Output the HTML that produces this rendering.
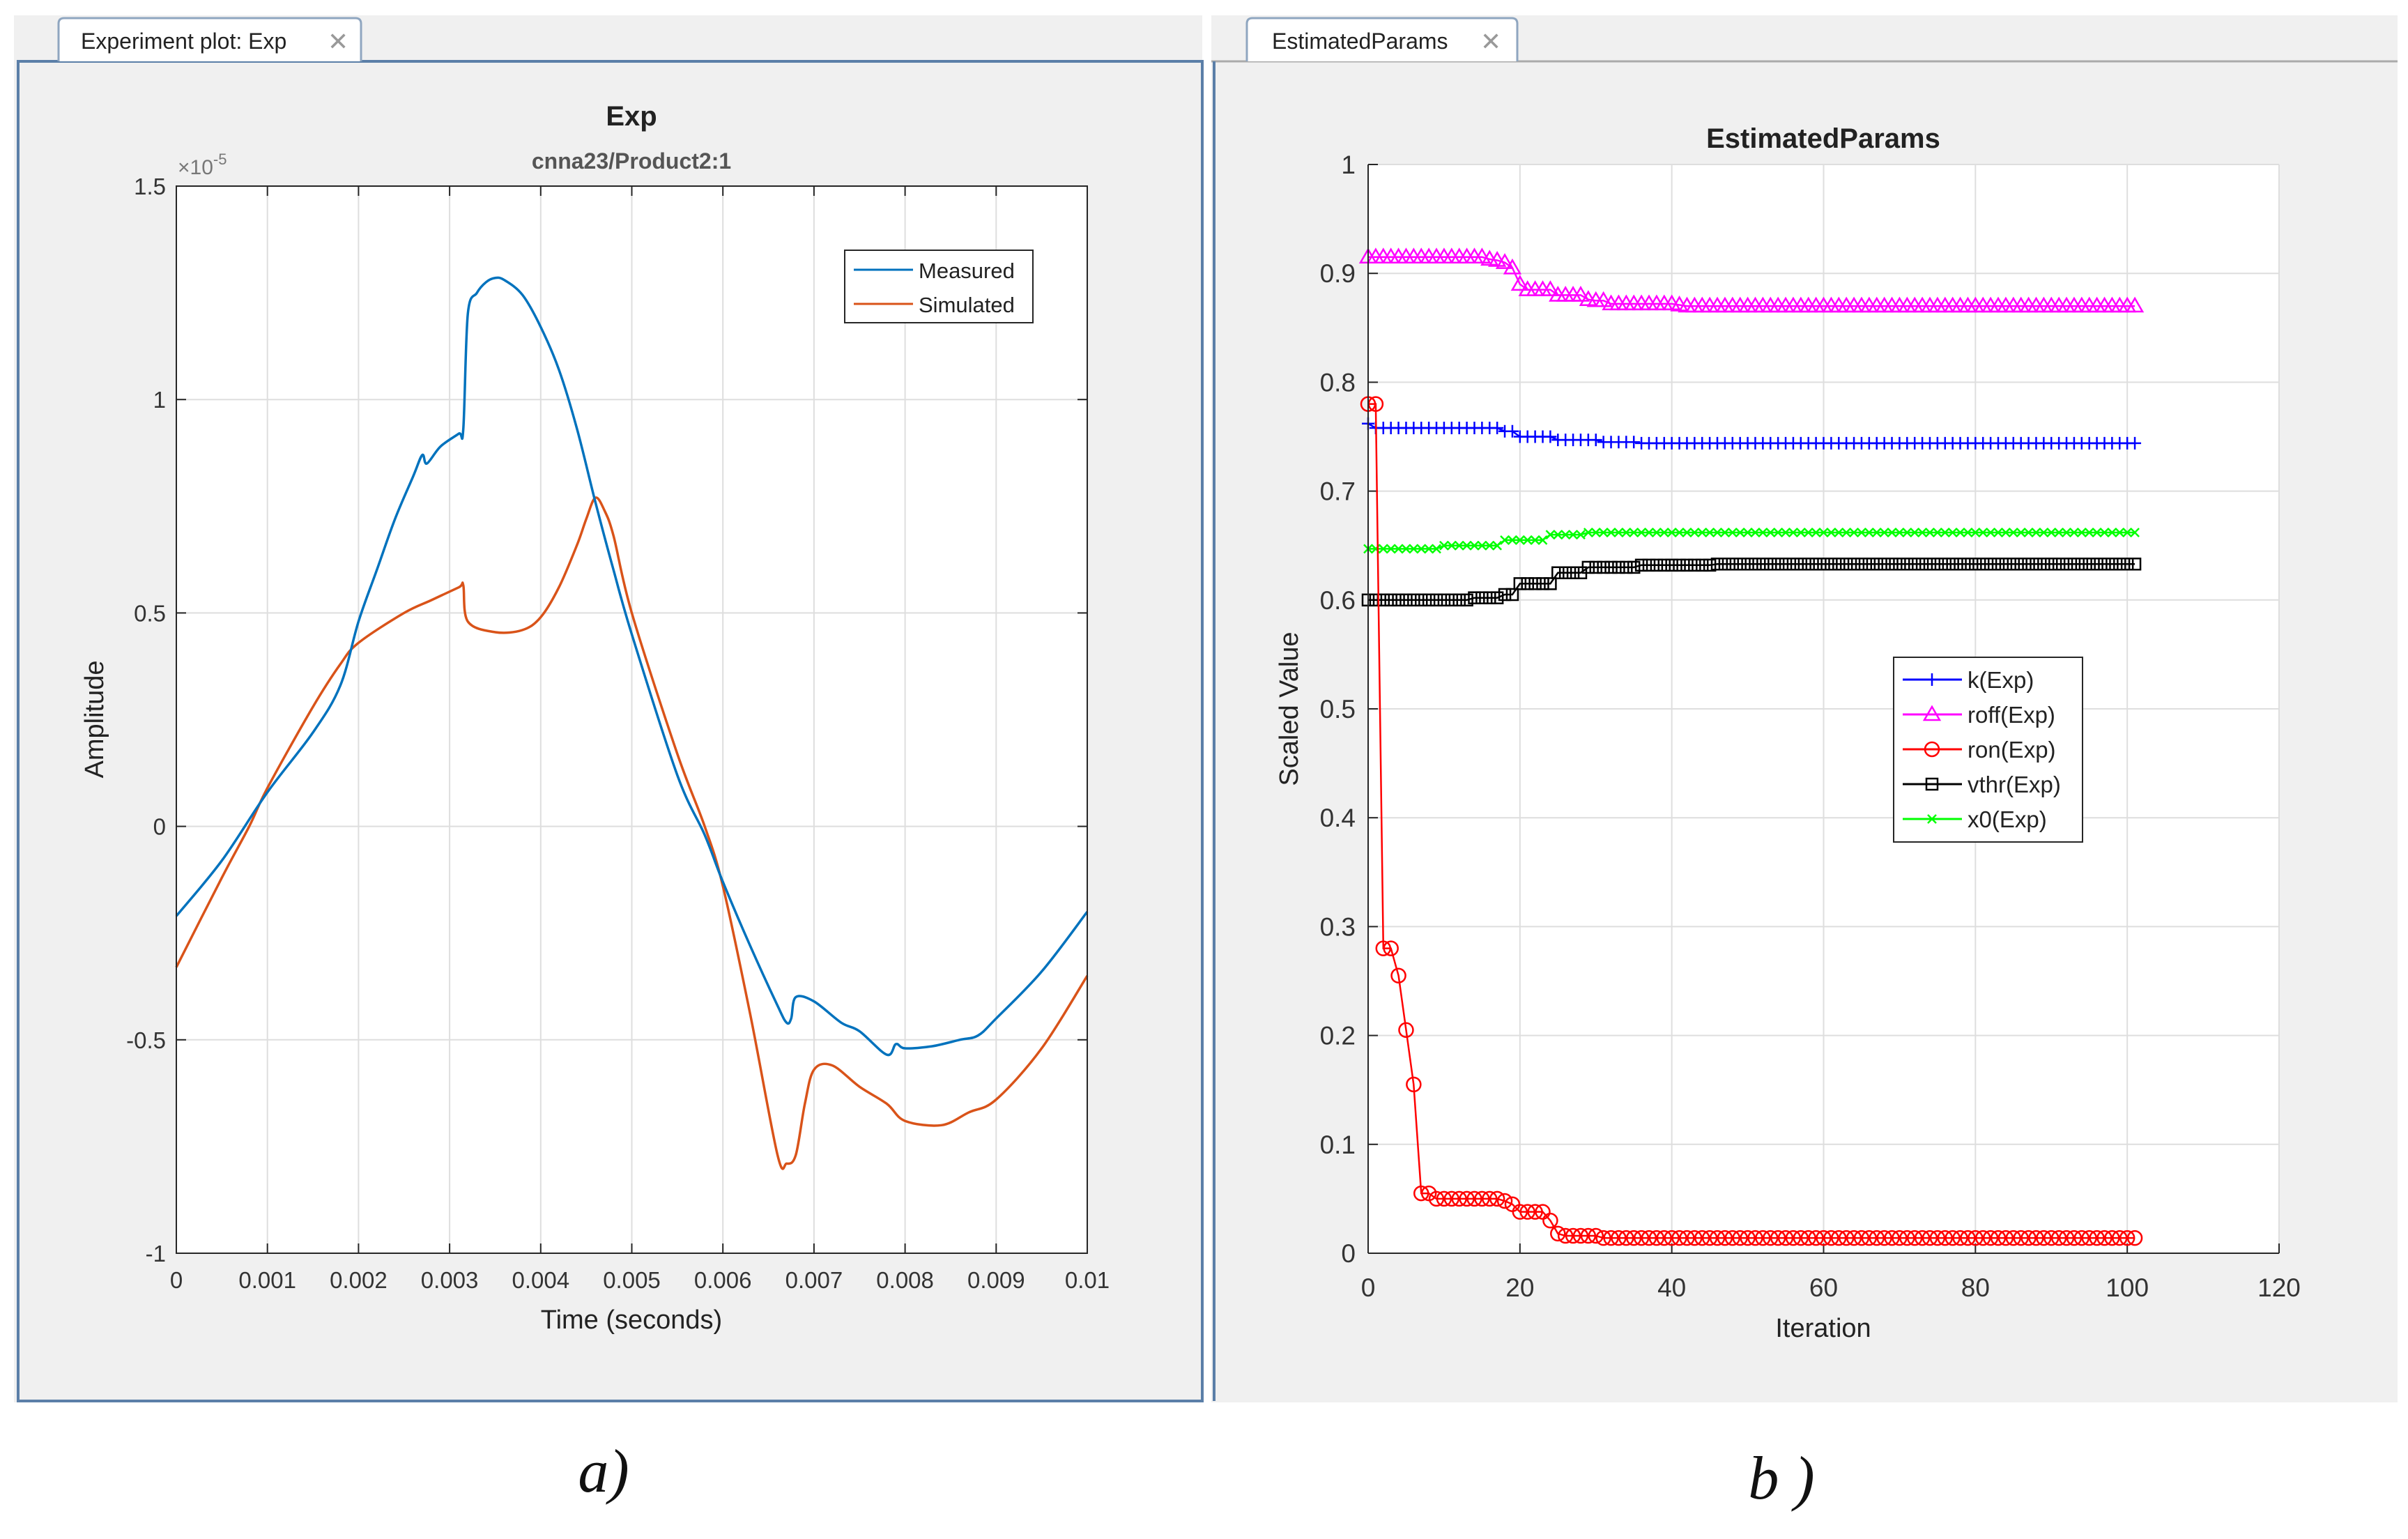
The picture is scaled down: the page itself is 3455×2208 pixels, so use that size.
<!DOCTYPE html>
<html><head><meta charset="utf-8"><style>
html,body{margin:0;padding:0;background:#fff}
svg{display:block;font-family:"Liberation Sans",sans-serif}
</style></head><body>
<svg id="root" width="3455" height="2208" viewBox="0 0 3455 2208" xmlns="http://www.w3.org/2000/svg">
<rect x="0" y="0" width="3455" height="2208" fill="#fff"/>
<g>
<rect x="20" y="22" width="1705" height="1990" fill="#f0f0f0"/>
<rect x="26" y="88" width="1699" height="1922" fill="#f0f0f0" stroke="#5b7fa8" stroke-width="4"/>
<path d="M84 88 L84 34 Q84 26 92 26 L510 26 Q518 26 518 34 L518 88" fill="#fff" stroke="#8fa6c0" stroke-width="3"/>
<text x="116" y="70" font-size="32" fill="#222">Experiment plot: Exp</text>
<text x="470" y="72" font-size="36" fill="#999">✕</text>
<rect x="253" y="267" width="1307" height="1531" fill="#fff"/>
<g id="lgrid"></g>
<g id="lseries"></g>
<rect x="253" y="267" width="1307" height="1531" fill="none" stroke="#262626" stroke-width="2"/>
<text x="906" y="180" font-size="40" font-weight="bold" text-anchor="middle" fill="#222">Exp</text>
<text x="906" y="242" font-size="32" font-weight="bold" text-anchor="middle" fill="#555">cnna23/Product2:1</text>
<text x="255" y="250" font-size="30" fill="#777">×10<tspan dy="-14" font-size="22">-5</tspan></text>
<text x="906" y="1906" font-size="38" text-anchor="middle" fill="#222">Time (seconds)</text>
<text transform="translate(148,1032) rotate(-90)" font-size="38" text-anchor="middle" fill="#222">Amplitude</text>
<g>
<rect x="1212" y="359" width="270" height="104" fill="#fff" stroke="#262626" stroke-width="2"/>
<line x1="1225" y1="387" x2="1310" y2="387" stroke="#0072bd" stroke-width="3"/>
<text x="1318" y="399" font-size="31" fill="#222">Measured</text>
<line x1="1225" y1="436" x2="1310" y2="436" stroke="#d95319" stroke-width="3"/>
<text x="1318" y="448" font-size="31" fill="#222">Simulated</text>
</g>
</g>
<g>
<rect x="1738" y="22" width="1702" height="1990" fill="#f0f0f0"/>
<line x1="1738" y1="88" x2="3440" y2="88" stroke="#aaa" stroke-width="3"/>
<line x1="1742" y1="88" x2="1742" y2="2010" stroke="#5b7fa8" stroke-width="4"/>
<path d="M1789 88 L1789 34 Q1789 26 1797 26 L2169 26 Q2177 26 2177 34 L2177 88" fill="#fff" stroke="#8fa6c0" stroke-width="3"/>
<text x="1825" y="70" font-size="32" fill="#222">EstimatedParams</text>
<text x="2124" y="72" font-size="36" fill="#999">✕</text>
<rect x="1963" y="236" width="1307" height="1562" fill="#fff"/>
<g id="rgrid"></g>
<g id="rseries"></g>
<line x1="1963" y1="236" x2="1963" y2="1798" stroke="#262626" stroke-width="2"/>
<line x1="1963" y1="1798" x2="3270" y2="1798" stroke="#262626" stroke-width="2"/>
<text x="2616" y="212" font-size="40" font-weight="bold" text-anchor="middle" fill="#222">EstimatedParams</text>
<text x="2616" y="1918" font-size="38" text-anchor="middle" fill="#222">Iteration</text>
<text transform="translate(1862,1017) rotate(-90)" font-size="38" text-anchor="middle" fill="#222">Scaled Value</text>
<g id="rlegend">
<rect x="2717" y="943" width="271" height="265" fill="#fff" stroke="#262626" stroke-width="2"/>
</g>
</g>
<text x="866" y="2140" font-size="88" font-style="italic" font-family="Liberation Serif, serif" text-anchor="middle" fill="#111">a)</text>
<text x="2556" y="2150" font-size="88" font-style="italic" font-family="Liberation Serif, serif" text-anchor="middle" fill="#111">b )</text>
</svg>
<script>
const measT=[0,0.0005,0.001,0.0015,0.0018,0.002,0.0022,0.0024,0.0026,0.0027,0.00275,0.0029,0.0031,0.00315,0.0032,0.0033,0.0034,0.0035,0.0036,0.0038,0.004,0.0042,0.0044,0.0046,0.0048,0.005,0.0055,0.0058,0.006,0.0063,0.0066,0.0067,0.00675,0.0068,0.007,0.0073,0.0075,0.0078,0.0079,0.008,0.0083,0.0086,0.0088,0.009,0.0095,0.01];
const measV=[-0.21,-0.08,0.08,0.22,0.33,0.48,0.6,0.72,0.82,0.87,0.85,0.89,0.92,0.93,1.2,1.25,1.275,1.285,1.28,1.245,1.17,1.07,0.93,0.76,0.6,0.45,0.12,-0.02,-0.13,-0.28,-0.42,-0.46,-0.45,-0.40,-0.41,-0.46,-0.48,-0.535,-0.51,-0.52,-0.515,-0.5,-0.49,-0.45,-0.34,-0.2];
const simT=[0,0.0005,0.0008,0.001,0.0015,0.0018,0.002,0.0025,0.0028,0.0031,0.00315,0.0032,0.0035,0.0038,0.004,0.0042,0.0044,0.0045,0.0046,0.0047,0.0048,0.005,0.0055,0.0058,0.006,0.0063,0.0066,0.0067,0.0068,0.0069,0.007,0.0072,0.0075,0.0078,0.008,0.0084,0.0087,0.009,0.0095,0.01];
const simV=[-0.33,-0.12,0.0,0.09,0.28,0.38,0.43,0.5,0.53,0.56,0.565,0.48,0.455,0.46,0.49,0.56,0.66,0.72,0.77,0.74,0.68,0.50,0.17,0.0,-0.14,-0.44,-0.77,-0.79,-0.77,-0.65,-0.57,-0.56,-0.61,-0.65,-0.69,-0.70,-0.67,-0.64,-0.52,-0.35];
const lxTicks=[0,0.001,0.002,0.003,0.004,0.005,0.006,0.007,0.008,0.009,0.01];
const lxLabels=["0","0.001","0.002","0.003","0.004","0.005","0.006","0.007","0.008","0.009","0.01"];
const lyTicks=[-1,-0.5,0,0.5,1,1.5];
const lyLabels=["-1","-0.5","0","0.5","1","1.5"];
const rxTicks=[0,20,40,60,80,100,120];
const ryTicks=[0,0.1,0.2,0.3,0.4,0.5,0.6,0.7,0.8,0.9,1];
const ryLabels=["0","0.1","0.2","0.3","0.4","0.5","0.6","0.7","0.8","0.9","1"];
const kVals=[0.762,0.758,0.758,0.758,0.758,0.758,0.758,0.758,0.758,0.758,
0.758,0.758,0.758,0.758,0.758,0.758,0.758,0.758,0.755,0.755,
0.75,0.75,0.75,0.75,0.75,0.747,0.747,0.747,0.747,0.747,
0.747,0.745,0.745,0.745,0.745,0.745,0.744,0.744,0.744,0.744,
0.744,0.744,0.744,0.744,0.744,0.744,0.744,0.744,0.744,0.744,
0.744,0.744,0.744,0.744,0.744,0.744,0.744,0.744,0.744,0.744,
0.744,0.744,0.744,0.744,0.744,0.744,0.744,0.744,0.744,0.744,
0.744,0.744,0.744,0.744,0.744,0.744,0.744,0.744,0.744,0.744,
0.744,0.744,0.744,0.744,0.744,0.744,0.744,0.744,0.744,0.744,
0.744,0.744,0.744,0.744,0.744,0.744,0.744,0.744,0.744,0.744,
0.744,0.744];
const roffVals=[0.915,0.915,0.915,0.915,0.915,0.915,0.915,0.915,0.915,0.915,
0.915,0.915,0.915,0.915,0.915,0.915,0.913,0.912,0.91,0.905,
0.89,0.885,0.885,0.885,0.885,0.88,0.88,0.88,0.88,0.876,
0.875,0.875,0.872,0.872,0.872,0.872,0.872,0.872,0.872,0.872,
0.872,0.871,0.87,0.87,0.87,0.87,0.87,0.87,0.87,0.87,
0.87,0.87,0.87,0.87,0.87,0.87,0.87,0.87,0.87,0.87,
0.87,0.87,0.87,0.87,0.87,0.87,0.87,0.87,0.87,0.87,
0.87,0.87,0.87,0.87,0.87,0.87,0.87,0.87,0.87,0.87,
0.87,0.87,0.87,0.87,0.87,0.87,0.87,0.87,0.87,0.87,
0.87,0.87,0.87,0.87,0.87,0.87,0.87,0.87,0.87,0.87,
0.87,0.87];
const ronVals=[0.78,0.78,0.28,0.28,0.255,0.205,0.155,0.055,0.055,0.05,
0.05,0.05,0.05,0.05,0.05,0.05,0.05,0.05,0.048,0.045,
0.038,0.038,0.038,0.038,0.03,0.018,0.016,0.016,0.016,0.016,
0.016,0.014,0.014,0.014,0.014,0.014,0.014,0.014,0.014,0.014,
0.014,0.014,0.014,0.014,0.014,0.014,0.014,0.014,0.014,0.014,
0.014,0.014,0.014,0.014,0.014,0.014,0.014,0.014,0.014,0.014,
0.014,0.014,0.014,0.014,0.014,0.014,0.014,0.014,0.014,0.014,
0.014,0.014,0.014,0.014,0.014,0.014,0.014,0.014,0.014,0.014,
0.014,0.014,0.014,0.014,0.014,0.014,0.014,0.014,0.014,0.014,
0.014,0.014,0.014,0.014,0.014,0.014,0.014,0.014,0.014,0.014,
0.014,0.014];
const vthrVals=[0.6,0.6,0.6,0.6,0.6,0.6,0.6,0.6,0.6,0.6,
0.6,0.6,0.6,0.6,0.602,0.602,0.602,0.602,0.605,0.605,
0.615,0.615,0.615,0.615,0.615,0.625,0.625,0.625,0.625,0.63,
0.63,0.63,0.63,0.63,0.63,0.63,0.632,0.632,0.632,0.632,
0.632,0.632,0.632,0.632,0.632,0.632,0.633,0.633,0.633,0.633,
0.633,0.633,0.633,0.633,0.633,0.633,0.633,0.633,0.633,0.633,
0.633,0.633,0.633,0.633,0.633,0.633,0.633,0.633,0.633,0.633,
0.633,0.633,0.633,0.633,0.633,0.633,0.633,0.633,0.633,0.633,
0.633,0.633,0.633,0.633,0.633,0.633,0.633,0.633,0.633,0.633,
0.633,0.633,0.633,0.633,0.633,0.633,0.633,0.633,0.633,0.633,
0.633,0.633];
const x0Vals=[0.647,0.647,0.647,0.647,0.647,0.647,0.647,0.647,0.647,0.647,
0.65,0.65,0.65,0.65,0.65,0.65,0.65,0.65,0.655,0.655,
0.655,0.655,0.655,0.655,0.66,0.66,0.66,0.66,0.66,0.662,
0.662,0.662,0.662,0.662,0.662,0.662,0.662,0.662,0.662,0.662,
0.662,0.662,0.662,0.662,0.662,0.662,0.662,0.662,0.662,0.662,
0.662,0.662,0.662,0.662,0.662,0.662,0.662,0.662,0.662,0.662,
0.662,0.662,0.662,0.662,0.662,0.662,0.662,0.662,0.662,0.662,
0.662,0.662,0.662,0.662,0.662,0.662,0.662,0.662,0.662,0.662,
0.662,0.662,0.662,0.662,0.662,0.662,0.662,0.662,0.662,0.662,
0.662,0.662,0.662,0.662,0.662,0.662,0.662,0.662,0.662,0.662,
0.662,0.662];
const seriesNames=["k(Exp)","roff(Exp)","ron(Exp)","vthr(Exp)","x0(Exp)"];

const NS="http://www.w3.org/2000/svg";
function mk(tag,attrs,parent){const e=document.createElementNS(NS,tag);for(const k in attrs)e.setAttribute(k,attrs[k]);parent.appendChild(e);return e;}

const lx=v=>253+(v-0)/(0.01)*1307;
const ly=v=>1798-(v+1)/2.5*1531;
const lg=document.getElementById('lgrid');
lxTicks.forEach((t,i)=>{
  const g=mk('line',{x1:lx(t),y1:267,x2:lx(t),y2:1798,stroke:'#dedede','stroke-width':2},lg);
  
  
  mk('line',{x1:lx(t),y1:1798,x2:lx(t),y2:1784,stroke:'#262626','stroke-width':2},lg);
  mk('line',{x1:lx(t),y1:267,x2:lx(t),y2:281,stroke:'#262626','stroke-width':2},lg);
  const tx=mk('text',{x:lx(t),y:1848,'font-size':33,'text-anchor':'middle',fill:'#333'},lg);
  tx.textContent=lxLabels[i];
  
  
});
lyTicks.forEach((t,i)=>{
  const g=mk('line',{x1:253,y1:ly(t),x2:1560,y2:ly(t),stroke:'#dedede','stroke-width':2},lg);
  
  
  mk('line',{x1:253,y1:ly(t),x2:267,y2:ly(t),stroke:'#262626','stroke-width':2},lg);
  mk('line',{x1:1546,y1:ly(t),x2:1560,y2:ly(t),stroke:'#262626','stroke-width':2},lg);
  const tx=mk('text',{x:238,y:ly(t)+12,'font-size':33,'text-anchor':'end',fill:'#333'},lg);
  tx.textContent=lyLabels[i];
  
  
});
const ls=document.getElementById('lseries');
function smoothPath(P){
  let d='M'+P[0][0].toFixed(1)+' '+P[0][1].toFixed(1);
  for(let i=0;i<P.length-1;i++){
    const p0=P[Math.max(0,i-1)],p1=P[i],p2=P[i+1],p3=P[Math.min(P.length-1,i+2)];
    const c1x=p1[0]+(p2[0]-p0[0])/6,c1y=p1[1]+(p2[1]-p0[1])/6;
    const c2x=p2[0]-(p3[0]-p1[0])/6,c2y=p2[1]-(p3[1]-p1[1])/6;
    d+=` C${c1x.toFixed(1)} ${c1y.toFixed(1)} ${c2x.toFixed(1)} ${c2y.toFixed(1)} ${p2[0].toFixed(1)} ${p2[1].toFixed(1)}`;
  }
  return d;
}
function lline(T,V,color,name){
  const P=T.map((t,i)=>[lx(t),ly(V[i])]);
  const p=mk('path',{d:smoothPath(P),fill:'none',stroke:color,'stroke-width':3.5,'stroke-linejoin':'round'},ls);
  
  
}
lline(simT,simV,'#d95319','simulated-line');
lline(measT,measV,'#0072bd','measured-line');

const rx=v=>1963+v/120*1307;
const ry=v=>1798-v*1562;
const rg=document.getElementById('rgrid');
rxTicks.forEach(t=>{
  const g=mk('line',{x1:rx(t),y1:236,x2:rx(t),y2:1798,stroke:'#dedede','stroke-width':2},rg);
  
  
  mk('line',{x1:rx(t),y1:1798,x2:rx(t),y2:1784,stroke:'#262626','stroke-width':2},rg);
  const tx=mk('text',{x:rx(t),y:1860,'font-size':37,'text-anchor':'middle',fill:'#333'},rg);
  tx.textContent=String(t);
  
  
});
ryTicks.forEach((t,i)=>{
  const g=mk('line',{x1:1963,y1:ry(t),x2:3270,y2:ry(t),stroke:'#dedede','stroke-width':2},rg);
  
  
  mk('line',{x1:1963,y1:ry(t),x2:1977,y2:ry(t),stroke:'#262626','stroke-width':2},rg);
  const tx=mk('text',{x:1945,y:ry(t)+13,'font-size':37,'text-anchor':'end',fill:'#333'},rg);
  tx.textContent=ryLabels[i];
  
  
});
function marker(type,x,y,color,parent){
  if(type==='plus'){mk('path',{d:`M${x-9} ${y}H${x+9}M${x} ${y-9}V${y+9}`,stroke:color,'stroke-width':2.5,fill:'none'},parent);}
  else if(type==='tri'){mk('path',{d:`M${x} ${y-11}L${x+11} ${y+8}L${x-11} ${y+8}Z`,stroke:color,'stroke-width':2.5,fill:'none'},parent);}
  else if(type==='circ'){mk('circle',{cx:x,cy:y,r:10,stroke:color,'stroke-width':2.5,fill:'none'},parent);}
  else if(type==='sq'){mk('rect',{x:x-8,y:y-8,width:16,height:16,stroke:color,'stroke-width':2.5,fill:'none'},parent);}
  else if(type==='x'){mk('path',{d:`M${x-6} ${y-6}L${x+6} ${y+6}M${x-6} ${y+6}L${x+6} ${y-6}`,stroke:color,'stroke-width':2.5,fill:'none'},parent);}
}
const rs=document.getElementById('rseries');
const seriesData=[kVals,roffVals,ronVals,vthrVals,x0Vals];
const colors=['#0000ff','#ff00ff','#ff0000','#000000','#00ff00'];
const mtypes=['plus','tri','circ','sq','x'];
const snames=['k-series','roff-series','ron-series','vthr-series','x0-series'];
[1,0,4,3,2].forEach(si=>{
  const V=seriesData[si];
  const g=mk('g',{},rs);
  
  
  const d=V.map((v,i)=>(i?'L':'M')+rx(i).toFixed(1)+' '+ry(v).toFixed(1)).join(' ');
  mk('path',{d:d,fill:'none',stroke:colors[si],'stroke-width':2.5},g);
  V.forEach((v,i)=>marker(mtypes[si],rx(i),ry(v),colors[si],g));
});
const rl=document.getElementById('rlegend');
seriesNames.forEach((n,i)=>{
  const y=975+i*50;
  mk('line',{x1:2730,y1:y,x2:2815,y2:y,stroke:colors[i],'stroke-width':3},rl);
  marker(mtypes[i],2772,y,colors[i],rl);
  const t=mk('text',{x:2823,y:y+12,'font-size':33,fill:'#222'},rl);
  t.textContent=n;
  
  
});
</script>
</body></html>
